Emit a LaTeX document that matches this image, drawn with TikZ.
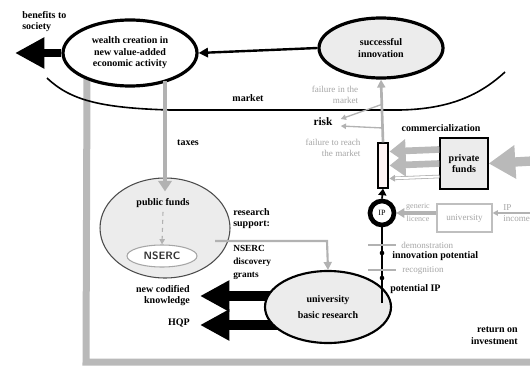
\documentclass[tikz,border=0pt]{standalone}
\usepackage{fontspec}
\setmainfont{Liberation Serif}
\usetikzlibrary{arrows.meta,shapes.geometric,calc,backgrounds}
\begin{document}
\begin{tikzpicture}[x=0.75pt,y=-0.75pt,
  lbl/.style={font=\fontsize{7.5}{8.6}\selectfont\bfseries, align=center, inner sep=0pt},
  glbl/.style={font=\fontsize{6.8}{8.6}\selectfont, text=gray!70, align=center, inner sep=0pt},
  bigell/.style={ellipse, draw=black, line width=2.4pt, inner sep=0pt, font=\fontsize{7.5}{8.6}\selectfont\bfseries, align=center},
  band/.style={draw=gray!55, line width=5.25pt},
  hatch/.style={draw=gray!55, line width=5pt, -{Triangle[length=12pt,width=17pt]}},
  garrow/.style={draw=gray!60, line width=2pt, -{Triangle[length=6pt,width=6pt]}},
  thinarrow/.style={draw=gray!60, line width=1pt, -{Triangle[length=4pt,width=4pt]}},
  barrow/.style={draw=black, line width=1.8pt, -{Triangle[length=7pt,width=7pt]}},
  fatarrow/.style={draw=black, line width=7.5pt, -{Triangle[length=22pt,width=22pt]}},
]
\useasboundingbox (0,0) rectangle (530,367);

% ---- nodes
\node[bigell, fill=white, minimum width=100.5pt, minimum height=49.5pt] (wealth) at (130,53)
  {wealth creation in\\new value-added\\economic activity};
\node[bigell, fill=gray!15, minimum width=93pt, minimum height=45pt] (succ) at (381,48)
  {successful\\innovation};
\node[ellipse, draw=gray!60!black, line width=0.8pt, fill=gray!15, minimum width=97.5pt, minimum height=75pt] (pub) at (165,228) {};
\node[lbl] (publbl) at (163,203) {public funds};
\node[ellipse, draw=gray!70, line width=0.8pt, fill=white, minimum width=52.5pt, minimum height=16.5pt,
  font=\sffamily\bfseries\fontsize{8}{9}\selectfont, text=gray!40!black, inner sep=0pt] (nserc) at (162,256) {NSERC};
\node[ellipse, draw=black, line width=1.6pt, fill=gray!15, minimum width=94.5pt, minimum height=54pt,
  font=\fontsize{7.5}{12}\selectfont\bfseries, align=center, inner sep=0pt] (univ) at (328,307)
  {university\\basic research};
\node[circle, draw=black, line width=3.5pt, fill=white, minimum size=18pt, inner sep=0pt,
  font=\fontsize{6}{7}\selectfont] (ip) at (382,213) {IP};
\node[rectangle, draw=black, line width=0.9pt, fill=red!4, minimum width=7.5pt, minimum height=33.75pt, inner sep=0pt] (comm) at (383,165.5) {};
\node[rectangle, draw=black, line width=1pt, fill=gray!15, minimum width=36pt, minimum height=38.25pt,
  font=\fontsize{7.5}{8.6}\selectfont\bfseries, align=center, inner sep=0pt] (priv) at (464,163.5) {private\\funds};
\node[rectangle, draw=gray!50, line width=0.8pt, fill=white, minimum width=41.25pt, minimum height=21pt,
  font=\fontsize{6.8}{8}\selectfont, text=gray!70, inner sep=0pt] (ubox) at (464.5,218) {university};

% ---- labels
\node[lbl, align=left, anchor=north west] (ben) at (22,11) {benefits to\\society};
\node[lbl] (mkt) at (248,98) {market};
\node[lbl] (tax) at (188,143) {taxes};
\node[glbl, align=right] (fim) at (335,95) {failure in the\\market};
\node[lbl, font=\fontsize{8.5}{9}\selectfont\bfseries] (risk) at (323,122) {risk};
\node[glbl, align=right] (ftr) at (333,148) {failure to reach\\the market};
\node[lbl] (comml) at (441,128) {commercialization};
\node[lbl, align=left, anchor=north west] (rs) at (233,208) {research\\support:};
\node[lbl, align=left, anchor=north west, font=\fontsize{7}{9.8}\selectfont\bfseries] (ndg) at (233,245) {NSERC\\discovery\\grants};
\node[lbl, align=right, anchor=north east] (ncl) at (190,285) {new codified\\knowledge};
\node[lbl, anchor=east] (hqp) at (190,323) {HQP};
\node[glbl, anchor=west] (demo) at (401,245) {demonstration};
\node[lbl, anchor=west] (ipot) at (392,256) {innovation potential};
\node[glbl, anchor=west] (recog) at (402,270) {recognition};
\node[lbl, anchor=west] (pip) at (390,289) {potential IP};
\node[lbl, align=right, anchor=north east] (roi) at (518,327) {return on\\investment};
\node[glbl, font=\fontsize{6}{7}\selectfont, anchor=south] (gen) at (418,210) {generic};
\node[glbl, font=\fontsize{6}{7}\selectfont, anchor=north] (lic) at (418,216) {licence};
\node[glbl, align=left, anchor=west] (ipinc) at (503,213) {IP\\income};

% ---- coordinates
\coordinate (bentip) at (15,53);
\coordinate (m1) at (47,78);
\coordinate (m2) at (170,110);
\coordinate (m3) at (400,110);
\coordinate (m4) at (505,72);
\coordinate (lstart) at ($(wealth.center)+(-43,24)$);
\coordinate (tstart) at ($(wealth.center)+(35,28)$);
\coordinate (bl) at (86,362);
\coordinate (br) at (532,362);
\coordinate (rt) at (532,161);
\coordinate (r1) at (383,104);
\coordinate (r2) at (383,128);
\coordinate (rs1) at (215,241);
\coordinate (rs2) at (327,241);
\coordinate (k1) at (200,296);
\coordinate (h1) at (200,325);
\coordinate (pipend) at (382,303);
\coordinate (incstart) at (530,213);

% ---- connectors (background)
\begin{pgfonlayer}{background}
  \draw[band] (lstart) -- (bl) -- (br);
  \draw[fatarrow] (univ.center |- k1) -- (k1);
  \draw[fatarrow] (univ.center |- h1) -- (h1);
\end{pgfonlayer}

\draw[fatarrow, line width=6pt] (wealth.west) -- (bentip);
\draw[black, line width=1.2pt] (m1) .. controls (70,100) and (100,108) .. (m2) -- (m3) .. controls (450,109) and (480,95) .. (m4);
\draw[barrow] (succ.west) -- (wealth.east);
\draw[garrow] (comm.north) -- (succ.south);
\draw[thinarrow] (r1) -- ($(risk.east)+(8,-3)$);
\draw[thinarrow] (r2) -- ($(risk.east)+(8,4)$);
\draw[draw=gray!60, line width=3.5pt, -{Triangle[length=8pt,width=10pt]}] (tstart) -- ($(pub.north)+(0,14)$);
\draw[gray!60, line width=0.8pt, dashed, -{Triangle[length=4pt,width=4pt]}] ($(publbl.south)+(0,4)$) -- (nserc.north);
\draw[garrow, line width=1.6pt] (rs1) -- (rs2) -- (univ.north);
\draw[hatch] ($(priv.west)+(0,-14)$) -- ($(comm.east)+(1,-14)$);
\draw[hatch] ($(priv.west)+(0,0)$) -- ($(comm.east)+(1,0)$);
\draw[gray!60, line width=0.6pt, double=white, double distance=1.5pt, -{Triangle[length=4pt,width=5pt]}] ($(priv.west)+(0,13)$) -- ($(comm.east)+(1,13)$);
\draw[draw=gray!55, line width=7pt, -{Triangle[length=20pt,width=24pt]}] (rt) -- (priv.east);
\draw[black, line width=1.3pt] (pipend) -- (ip.south);
\fill (382,253) circle (2.3);
\fill (382,278) circle (2.3);
\draw[gray!60, line width=1.5pt] (368,245) -- (396,245);
\draw[gray!60, line width=1.5pt] (368,270) -- (396,270);
\draw[barrow, line width=1.3pt, -{Triangle[length=5pt,width=6pt]}] (ip.north) -- (comm.south);
\draw[draw=gray!60, line width=2.5pt, -{Triangle[length=6pt,width=7pt]}] (ubox.west |- ip) -- (ip.east);
\draw[thinarrow] (incstart) -- (ubox.east |- incstart);
\end{tikzpicture}
\end{document}
